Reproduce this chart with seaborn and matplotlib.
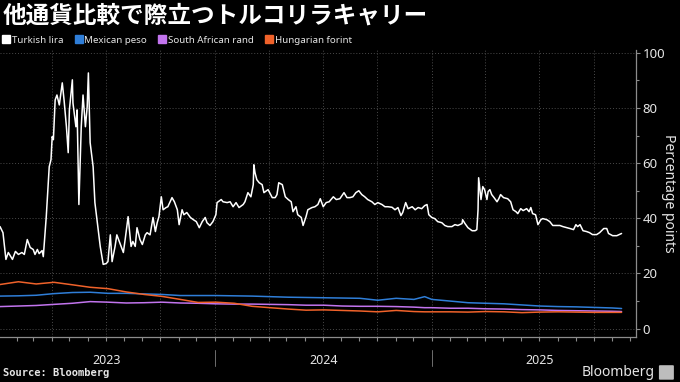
import pandas as pd
import seaborn as sns
import matplotlib.pyplot as plt
import matplotlib.dates as mdates
from matplotlib.lines import Line2D
from matplotlib.ticker import MultipleLocator
from matplotlib.patches import FancyBboxPatch

# --- data (percentage points) ---
try_dates = [
    "2023-01-04", "2023-01-09", "2023-01-14", "2023-01-18", "2023-01-25", "2023-01-30", "2023-02-04",
    "2023-02-10", "2023-02-14", "2023-02-19", "2023-02-24", "2023-03-01", "2023-03-04", "2023-03-08",
    "2023-03-11", "2023-03-16", "2023-03-18", "2023-03-23", "2023-03-28", "2023-03-31", "2023-04-02",
    "2023-04-04", "2023-04-07", "2023-04-10", "2023-04-14", "2023-04-19", "2023-04-22", "2023-04-26",
    "2023-04-29", "2023-05-01", "2023-05-06", "2023-05-07", "2023-05-12", "2023-05-14", "2023-05-17",
    "2023-05-21", "2023-05-24", "2023-05-28", "2023-05-31", "2023-06-02", "2023-06-05", "2023-06-10",
    "2023-06-13", "2023-06-17", "2023-06-22", "2023-06-27", "2023-07-02", "2023-07-05", "2023-07-09",
    "2023-07-12", "2023-07-17", "2023-07-20", "2023-07-26", "2023-07-31", "2023-08-03", "2023-08-08",
    "2023-08-13", "2023-08-16", "2023-08-20", "2023-08-23", "2023-08-28", "2023-09-01", "2023-09-06",
    "2023-09-09", "2023-09-14", "2023-09-19", "2023-09-23", "2023-09-26", "2023-09-29", "2023-10-03",
    "2023-10-06", "2023-10-11", "2023-10-14", "2023-10-21", "2023-10-25", "2023-10-30", "2023-11-02",
    "2023-11-07", "2023-11-10", "2023-11-15", "2023-11-21", "2023-11-26", "2023-12-01", "2023-12-06",
    "2023-12-11", "2023-12-16", "2023-12-19", "2023-12-24", "2023-12-29", "2024-01-03", "2024-01-05",
    "2024-01-12", "2024-01-15", "2024-01-22", "2024-01-27", "2024-02-01", "2024-02-06", "2024-02-11",
    "2024-02-18", "2024-02-21", "2024-02-26", "2024-03-02", "2024-03-06", "2024-03-07", "2024-03-09",
    "2024-03-12", "2024-03-16", "2024-03-21", "2024-03-24", "2024-03-31", "2024-04-07", "2024-04-12",
    "2024-04-15", "2024-04-18", "2024-04-24", "2024-04-29", "2024-05-04", "2024-05-09", "2024-05-12",
    "2024-05-17", "2024-05-20", "2024-05-26", "2024-05-29", "2024-06-03", "2024-06-06", "2024-06-13",
    "2024-06-18", "2024-06-23", "2024-06-27", "2024-07-02", "2024-07-07", "2024-07-12", "2024-07-19",
    "2024-07-24", "2024-07-30", "2024-08-06", "2024-08-11", "2024-08-16", "2024-08-21", "2024-08-26",
    "2024-08-31", "2024-09-05", "2024-09-10", "2024-09-15", "2024-09-22", "2024-09-27", "2024-10-02",
    "2024-10-09", "2024-10-14", "2024-10-19", "2024-10-26", "2024-10-31", "2024-11-05", "2024-11-10",
    "2024-11-13", "2024-11-18", "2024-11-22", "2024-11-29", "2024-12-04", "2024-12-09", "2024-12-15",
    "2024-12-20", "2024-12-24", "2024-12-27", "2025-01-01", "2025-01-06", "2025-01-11", "2025-01-18",
    "2025-01-23", "2025-01-28", "2025-02-04", "2025-02-09", "2025-02-14", "2025-02-21", "2025-02-22",
    "2025-02-26", "2025-03-03", "2025-03-10", "2025-03-15", "2025-03-18", "2025-03-20", "2025-03-21",
    "2025-03-25", "2025-03-28", "2025-03-31", "2025-04-04", "2025-04-06", "2025-04-09", "2025-04-12",
    "2025-04-16", "2025-04-21", "2025-04-24", "2025-04-27", "2025-05-02", "2025-05-09", "2025-05-14",
    "2025-05-18", "2025-05-23", "2025-05-26", "2025-05-31", "2025-06-04", "2025-06-10", "2025-06-14",
    "2025-06-17", "2025-06-20", "2025-06-25", "2025-06-29", "2025-07-04", "2025-07-07", "2025-07-14",
    "2025-07-19", "2025-07-24", "2025-07-29", "2025-08-05", "2025-08-10", "2025-08-17", "2025-08-22",
    "2025-08-28", "2025-09-01", "2025-09-04", "2025-09-08", "2025-09-13", "2025-09-19", "2025-09-24",
    "2025-09-29", "2025-10-06", "2025-10-11", "2025-10-18", "2025-10-23", "2025-10-26", "2025-11-02",
    "2025-11-09", "2025-11-17",
]
try_vals = [
    37.0, 34.8, 25.1, 27.6, 25.1, 28.0, 26.9,
    27.6, 26.9, 32.3, 29.4, 28.7, 26.9, 28.7,
    27.2, 28.3, 26.1, 40.6, 58.7, 61.3, 69.6,
    68.5, 82.9, 84.7, 81.1, 89.1, 82.9, 73.2,
    63.8, 79.3, 90.2, 81.8, 73.2, 79.3, 45.0,
    73.2, 84.7, 73.2, 80.4, 92.7, 67.4, 58.7,
    45.7, 38.5, 29.8, 23.3, 23.6, 24.3, 34.0,
    24.3, 29.8, 34.0, 30.5, 27.6, 32.3, 40.6,
    29.8, 31.6, 29.8, 36.6, 32.3, 30.5, 34.0,
    34.8, 34.0, 40.3, 35.2, 38.4, 40.6, 47.8,
    43.1, 43.9, 44.2, 47.5, 46.0, 43.1, 37.7,
    43.1, 41.3, 42.1, 40.3, 39.5, 38.8, 36.6,
    38.8, 40.3, 38.4, 37.4, 38.8, 41.3, 45.7,
    46.8, 46.0, 45.7, 46.0, 44.2, 45.7, 43.9,
    45.0, 46.0, 49.3, 47.8, 52.2, 59.4, 56.5,
    54.0, 52.9, 52.2, 49.3, 50.4, 47.5, 47.5,
    48.6, 52.9, 52.2, 47.8, 46.8, 46.0, 42.4,
    44.2, 41.3, 40.3, 37.4, 40.6, 43.1, 43.9,
    44.2, 45.0, 47.1, 44.2, 45.7, 46.0, 47.8,
    46.8, 47.1, 49.3, 47.5, 47.5, 47.8, 49.3,
    50.0, 48.6, 47.8, 46.8, 46.0, 45.0, 45.7,
    45.0, 44.2, 44.2, 44.0, 43.1, 43.9, 41.0,
    42.1, 45.7, 43.5, 44.2, 43.1, 43.9, 43.5,
    44.6, 45.0, 41.3, 40.3, 39.9, 38.8, 38.4,
    37.4, 37.0, 37.0, 37.7, 37.4, 38.1, 39.5,
    38.1, 36.6, 35.5, 35.5, 35.9, 43.1, 54.7,
    46.8, 51.5, 50.4, 46.8, 49.7, 50.4, 48.6,
    47.5, 46.0, 47.1, 48.6, 47.5, 47.1, 46.0,
    43.1, 42.4, 41.7, 43.5, 42.8, 43.5, 42.4,
    43.9, 41.7, 41.3, 37.7, 39.5, 39.9, 39.5,
    38.8, 37.4, 37.4, 37.4, 37.0, 36.6, 36.3,
    35.9, 37.7, 37.0, 37.7, 35.5, 35.2, 34.8,
    34.1, 34.1, 34.8, 36.3, 36.3, 34.5, 33.7,
    33.7, 34.5,
]

fx_dates = [
    "2023-01-04", "2023-02-04", "2023-03-06", "2023-04-05", "2023-05-06", "2023-06-05", "2023-07-05",
    "2023-08-05", "2023-09-04", "2023-10-04", "2023-11-04", "2023-12-04", "2024-01-03", "2024-02-03",
    "2024-03-04", "2024-04-03", "2024-05-04", "2024-06-03", "2024-07-03", "2024-08-03", "2024-09-02",
    "2024-10-02", "2024-11-02", "2024-12-02", "2024-12-20", "2025-01-01", "2025-02-01", "2025-03-03",
    "2025-04-02", "2025-05-03", "2025-06-02", "2025-07-02", "2025-08-02", "2025-09-01", "2025-10-01",
    "2025-11-01", "2025-11-17",
]
mxn_vals = [11.8, 11.9, 12.1, 12.7, 13.1, 13.2, 12.8, 12.8, 12.6, 12.4, 12.0, 12.0, 12.0, 11.9,
            11.8, 11.6, 11.4, 11.3, 11.2, 11.1, 11.0, 10.3, 11.0, 10.6, 11.6, 10.6, 10.0, 9.4,
            9.2, 9.0, 8.6, 8.2, 8.0, 7.9, 7.7, 7.5, 7.3]
zar_vals = [8.0, 8.2, 8.4, 8.8, 9.2, 9.8, 9.6, 9.3, 9.4, 9.6, 9.3, 9.2, 9.0, 8.9,
            8.9, 8.8, 8.7, 8.5, 8.5, 8.2, 8.1, 8.1, 8.0, 7.8, 7.6, 7.6, 7.4, 7.4,
            7.2, 7.1, 6.9, 6.8, 6.6, 6.5, 6.4, 6.3, 6.2]
huf_vals = [16.0, 17.0, 16.2, 16.8, 15.9, 15.0, 14.5, 13.3, 12.4, 11.7, 10.6, 9.5, 9.6, 9.2,
            8.1, 7.6, 7.1, 6.7, 6.8, 6.6, 6.4, 6.1, 6.6, 6.2, 6.1, 6.1, 6.1, 6.0,
            6.2, 6.1, 5.8, 6.0, 6.1, 6.0, 5.9, 5.9, 5.9]

names = ["Turkish lira", "Mexican peso", "South African rand", "Hungarian forint"]
colors = ["#ffffff", "#2f7ed8", "#c274ee", "#f0622a"]
title = "他通貨比較で際立つトルコリラキャリー"

frames = [
    pd.DataFrame({"date": try_dates, "value": try_vals, "currency": names[0]}),
    pd.DataFrame({"date": fx_dates, "value": mxn_vals, "currency": names[1]}),
    pd.DataFrame({"date": fx_dates, "value": zar_vals, "currency": names[2]}),
    pd.DataFrame({"date": fx_dates, "value": huf_vals, "currency": names[3]}),
]
df = pd.concat(frames, ignore_index=True)
df["date"] = pd.to_datetime(df["date"])

sns.set_theme(style="dark")
bg = "#000000"
grey = "#8c8c8c"
txt = "#e6e6e6"
plt.rcParams["font.family"] = ["Noto Sans", "DejaVu Sans"]

fig = plt.figure(figsize=(6.8, 3.82), dpi=100, facecolor=bg)
ax = fig.add_axes([0.0, 0.118, 0.935, 0.751])
ax.set_facecolor(bg)

palette = dict(zip(names, colors))
draw_order = ["South African rand", "Mexican peso", "Hungarian forint", "Turkish lira"]
sns.lineplot(data=df, x="date", y="value", hue="currency", hue_order=draw_order,
             palette=palette, estimator=None, linewidth=1.1, legend=False, ax=ax)

ax.set_xlim(pd.Timestamp("2023-01-04"), pd.Timestamp("2025-12-11"))
ax.set_ylim(-3, 101)

# gridlines
ax.yaxis.set_major_locator(MultipleLocator(20))
ax.yaxis.set_minor_locator(MultipleLocator(10))
ax.grid(axis="y", which="major", color="#4a4a4a", linestyle=(0, (1, 2)), linewidth=0.7)
for q in pd.date_range("2023-04-01", "2025-10-01", freq="QS"):
    ax.axvline(q, color="#4a4a4a", linestyle=(0, (1, 2)), linewidth=0.7, zorder=0)

# y axis on the right
ax.yaxis.tick_right()
ax.tick_params(axis="y", which="major", colors=grey, labelcolor=txt, labelsize=9.5,
               length=3, width=0.8, pad=2)
ax.tick_params(axis="y", which="minor", colors=grey, length=2, width=0.8, right=True)
ax.set_ylabel("")
fig.text(0.983, 0.495, "Percentage points", rotation=270, color=txt, fontsize=10,
         ha="center", va="center")

# x axis: monthly ticks, year labels mid-year
ax.xaxis.set_major_locator(mdates.MonthLocator(bymonth=7, bymonthday=2))
ax.xaxis.set_major_formatter(mdates.DateFormatter("%Y"))
ax.xaxis.set_minor_locator(mdates.MonthLocator())
ax.tick_params(axis="x", which="major", length=0, labelcolor=txt, labelsize=9, pad=12)
ax.tick_params(axis="x", which="minor", colors=grey, length=3, width=0.8, bottom=True)
ax.set_xlabel("")
for yr in ["2024-01-01", "2025-01-01"]:
    d = mdates.date2num(pd.Timestamp(yr))
    ax.plot([d, d], [-0.045, -0.1], transform=ax.get_xaxis_transform(),
            color="#6e6e6e", linewidth=0.7, clip_on=False)

for side in ["top", "left"]:
    ax.spines[side].set_visible(False)
for side in ["right", "bottom"]:
    ax.spines[side].set_visible(True)
    ax.spines[side].set_color(grey)
    ax.spines[side].set_linewidth(0.9)

# title and legend
fig.text(0.004, 0.958, title, color="white", fontsize=17, fontweight="bold",
         family=["Noto Sans CJK JP", "DejaVu Sans"], ha="left", va="center")
handles = [Line2D([], [], marker="s", linestyle="", color=c, markersize=5.5) for c in colors]
leg = fig.legend(handles, names, loc="center left", bbox_to_anchor=(0.002, 0.895), ncol=4,
                 frameon=False, fontsize=7.0, handlelength=0.6, handletextpad=0.3,
                 columnspacing=1.25, borderpad=0.2, borderaxespad=0)
for t in leg.get_texts():
    t.set_color(txt)

# footer
fig.text(0.004, 0.024, "Source: Bloomberg", color=txt, fontsize=7.5, fontweight="bold",
         family="DejaVu Sans Mono", ha="left", va="center")
fig.text(0.963, 0.025, "Bloomberg", color=txt, fontsize=10, fontweight="semibold",
         ha="right", va="center")
fig.patches.append(FancyBboxPatch((0.971, 0.008), 0.018, 0.034, boxstyle="round,pad=0.002",
                                  transform=fig.transFigure, facecolor="#bdbdbd",
                                  edgecolor="none"))

fig.savefig("out.png", dpi=100, facecolor=bg)
